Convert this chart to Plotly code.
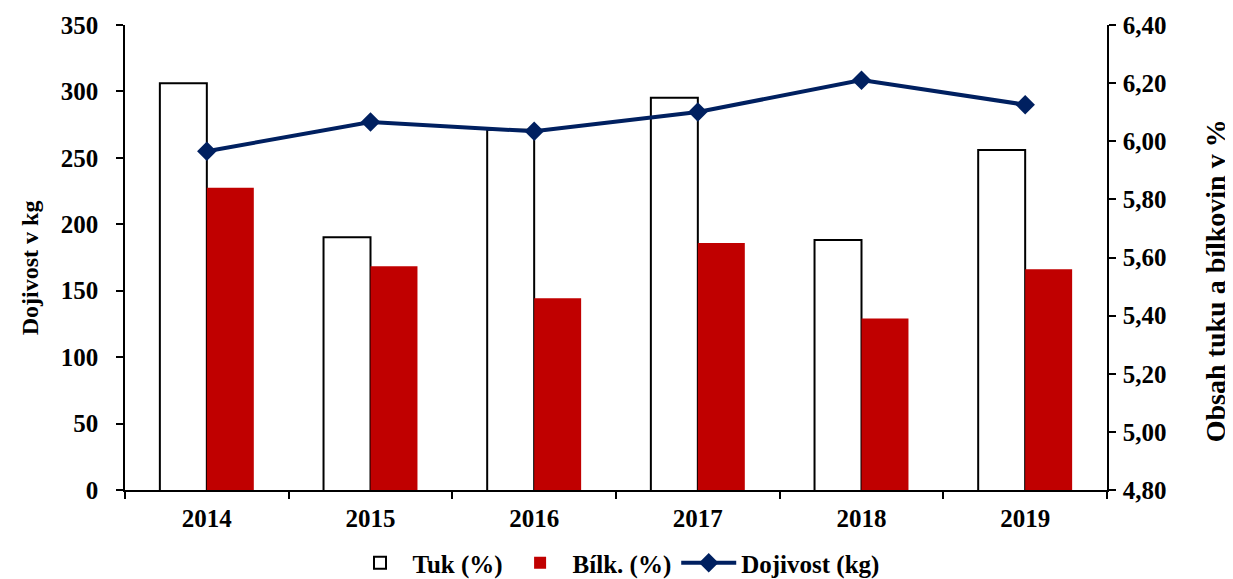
import plotly.graph_objects as go

years = ["2014", "2015", "2016", "2017", "2018", "2019"]
tuk = [6.20, 5.67, 6.04, 6.15, 5.66, 5.97]
bilk = [5.84, 5.57, 5.46, 5.65, 5.39, 5.56]
dojivost = [255, 277, 270, 284.5, 308.5, 290]

FONT = "Liberation Serif"
NAVY = "#002060"
RED = "#C00000"

fig = go.Figure()
fig.add_trace(go.Bar(
    x=years, y=tuk, name="Tuk (%)",
    marker=dict(color="white", line=dict(color="black", width=2)),
    yaxis="y",
))
fig.add_trace(go.Bar(
    x=years, y=bilk, name="Bílk. (%)",
    marker=dict(color=RED, line=dict(color=RED, width=0)),
    yaxis="y",
))
fig.add_trace(go.Scatter(
    x=years, y=dojivost, name="Dojivost (kg)", mode="lines+markers",
    line=dict(color=NAVY, width=4),
    marker=dict(symbol="diamond", size=15, color=NAVY),
    yaxis="y2",
))

tickfont = dict(family=FONT, size=25, color="black", weight="bold")
axis_common = dict(
    showline=True, linecolor="black", linewidth=1.5,
    ticks="outside", tickcolor="black", ticklen=7, tickwidth=1.5,
    showgrid=False, zeroline=False, tickfont=tickfont,
)

# page body has an 8px margin, so the figure is sized and padded for it
fig.update_layout(
    width=1225, height=571,
    paper_bgcolor="white", plot_bgcolor="white",
    margin=dict(l=117, r=126, t=17, b=89, autoexpand=False),
    separators=", ",
    barmode="group", bargap=0.426, bargroupgap=0,
    showlegend=True,
    legend=dict(orientation="h", x=0.5, xanchor="center",
                y=-0.157, yanchor="middle",
                font=dict(family=FONT, size=25, color="black", weight="bold"),
                traceorder="normal", itemwidth=55),
    xaxis=dict(type="category", tickson="boundaries", ticklabelstandoff=5, **axis_common),
    yaxis=dict(
        side="right", range=[4.8, 6.4], dtick=0.2, tickformat=".2f",
        ticklabelstandoff=2, **axis_common,
    ),
    yaxis2=dict(
        side="left", overlaying="y", range=[0, 350], dtick=50,
        ticklabelstandoff=13, **axis_common,
    ),
)

# axis titles as annotations so they sit where the original has them
fig.add_annotation(text="Dojivost v kg", textangle=-90, showarrow=False,
                   xref="paper", yref="paper", x=-0.0967, y=0.477,
                   xanchor="center", yanchor="middle",
                   font=dict(family=FONT, size=24, color="black", weight="bold"))
fig.add_annotation(text="Obsah tuku a bílkovin v %", textangle=-90, showarrow=False,
                   xref="paper", yref="paper", x=1.110, y=0.449,
                   xanchor="center", yanchor="middle",
                   font=dict(family=FONT, size=28, color="black", weight="bold"))

fig.write_html("out.html")
